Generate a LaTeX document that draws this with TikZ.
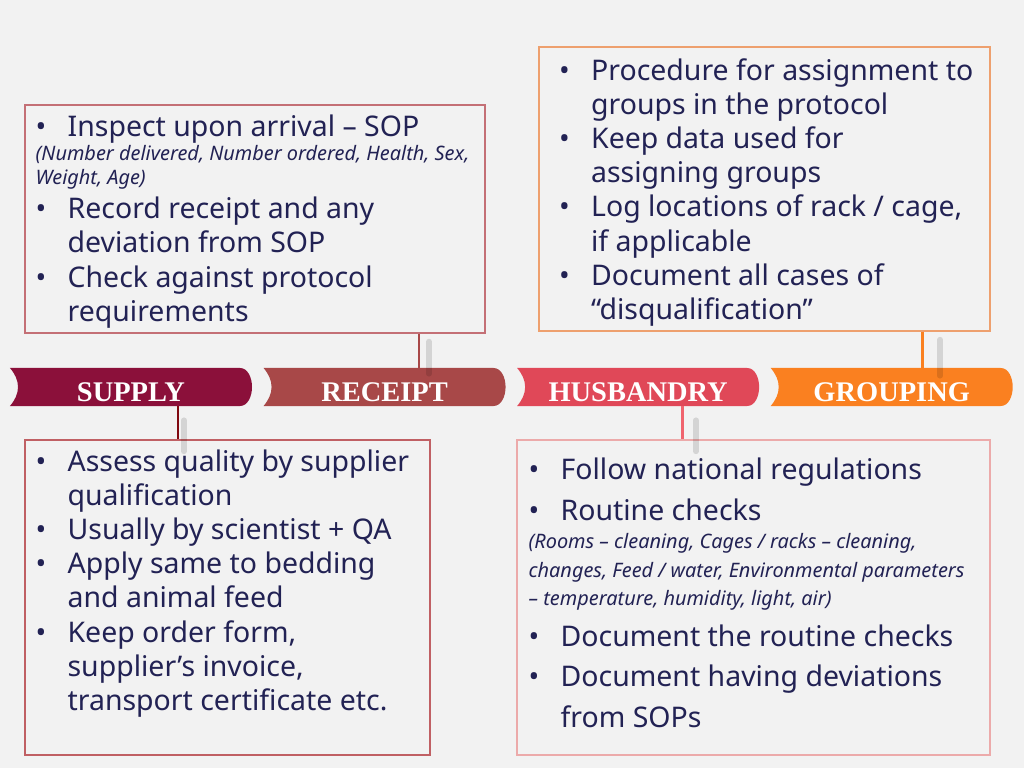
\documentclass[tikz,border=0pt]{standalone}
\usepackage{fontspec}
\setmainfont{Noto Sans}
\newfontfamily\chevfont{Liberation Serif}
\usetikzlibrary{positioning, calc}

\definecolor{bgc}{RGB}{242,242,242}
\definecolor{textc}{RGB}{34,34,84}
\definecolor{supplyc}{RGB}{139,16,58}
\definecolor{receiptc}{RGB}{168,72,72}
\definecolor{husbc}{RGB}{224,72,88}
\definecolor{groupc}{RGB}{250,128,32}
\definecolor{supplyln}{RGB}{128,8,16}
\definecolor{husbln}{RGB}{240,100,110}
\definecolor{sboxc}{RGB}{192,96,100}
\definecolor{rboxc}{RGB}{196,112,118}
\definecolor{hboxc}{RGB}{236,170,170}
\definecolor{gboxc}{RGB}{238,160,110}

% bullet line with hanging indent, and a small italic note
\newif\iffirstline
\newcommand\nextpar{\iffirstline\global\firstlinefalse\else\par\fi}
\newcommand\bitem[1]{\nextpar\hangindent=22.5pt\hangafter=1\noindent\makebox[22.5pt][l]{\textbullet}#1}
\newcommand\note[2][16.8]{\nextpar\noindent{\fontsize{14}{#1}\selectfont\itshape #2\par}\global\firstlinetrue}

\tikzset{
chev/.style={minimum width=170.16pt, minimum height=26.72pt, inner sep=0pt,
  text height=19.7pt, text depth=0pt, text=white,
  font=\chevfont\bfseries\fontsize{20}{24}\selectfont,
  path picture={\fill[#1] (path picture bounding box.north west)
    -- ($(path picture bounding box.north east)+(-12,0)$)
    .. controls ($(path picture bounding box.north east)+(-4,0)$) and ($(path picture bounding box.east)+(0,-9)$) .. (path picture bounding box.east)
    .. controls ($(path picture bounding box.east)+(0,9)$) and ($(path picture bounding box.south east)+(-4,0)$) .. ($(path picture bounding box.south east)+(-12,0)$)
    -- (path picture bounding box.south west)
    .. controls ($(path picture bounding box.south west)+(5,-6)$) and ($(path picture bounding box.west)+(8,7)$) .. ($(path picture bounding box.west)+(8,0)$)
    .. controls ($(path picture bounding box.west)+(8,-7)$) and ($(path picture bounding box.north west)+(5,6)$) .. (path picture bounding box.north west) -- cycle;}},
infobox/.style={draw=#1, line width=0.9pt, inner sep=0pt},
infotext/.style={anchor=base west, inner sep=0pt, text width=400pt, align=flush left,
  text=textc, font=\fontsize{20}{24}\selectfont,
  execute at begin node={\global\firstlinetrue}},
joinline/.style={line width=2.1pt},
joinshade/.style={line width=4pt, black, opacity=0.12, line cap=round},
}

\begin{document}
\begin{tikzpicture}[x=0.703125pt, y=-0.703125pt]
  \fill[bgc] (0,0) rectangle (1024,768);
  \useasboundingbox (0,0) rectangle (1024,768);

  % boxes
  \node[infobox=rboxc, minimum width=323.4pt, minimum height=160.3pt] (rbox) at (255,219) {};
  \node[infobox=gboxc, minimum width=317.1pt, minimum height=199.7pt] (gbox) at (764.5,189) {};
  \node[infobox=sboxc, minimum width=284.8pt, minimum height=221.5pt] (sbox) at (227.5,597.5) {};
  \node[infobox=hboxc, minimum width=332.6pt, minimum height=221.5pt] (hbox) at (753.5,597.5) {};

  % process steps
  \node[chev=supplyc] (supply) at (131,387) {SUPPLY};
  \node[chev=receiptc, right=7.73pt of supply] (receipt) {RECEIPT};
  \node[chev=husbc, right=7.73pt of receipt] (husbandry) {HUSBANDRY};
  \node[chev=groupc, right=7.73pt of husbandry] (grouping) {GROUPING};

  % texts
  \node[infotext] (rtext) at ([shift={(11,32.5)}]rbox.north west) {%
    \bitem{Inspect upon arrival – SOP}
    \note{(Number delivered, Number ordered, Health, Sex,\newline Weight, Age)}
    \bitem{Record receipt and any\newline deviation from SOP}
    \bitem{Check against protocol\newline requirements}\par};
  \node[infotext] (gtext) at ([shift={(20.5,34)}]gbox.north west) {%
    \bitem{Procedure for assignment to\newline groups in the protocol}
    \bitem{Keep data used for\newline assigning groups}
    \bitem{Log locations of rack / cage,\newline if applicable}
    \bitem{Document all cases of\newline “disqualification”}\par};
  \node[infotext] (stext) at ([shift={(11,32)}]sbox.north west) {%
    \bitem{Assess quality by supplier\newline qualification}
    \bitem{Usually by scientist + QA}
    \bitem{Apply same to bedding\newline and animal feed}
    \bitem{Keep order form,\newline supplier’s invoice,\newline transport certificate etc.}\par};
  \node[infotext, font=\fontsize{20}{28.5}\selectfont] (htext) at ([shift={(12,40.5)}]hbox.north west) {%
    \bitem{Follow national regulations}
    \bitem{Routine checks}
    \note[20]{(Rooms – cleaning, Cages / racks – cleaning,\newline changes, Feed / water, Environmental parameters\newline – temperature, humidity, light, air)}
    \bitem{Document the routine checks}
    \bitem{Document having deviations\newline from SOPs}\par};

  % connectors
  \coordinate (sj) at (178,0);
  \coordinate (rj) at (419,0);
  \coordinate (hj) at (682,0);
  \coordinate (gj) at (922,0);
  \draw[joinshade] ($(supply.south -| sj)+(6,14)$) -- ($(sbox.north -| sj)+(6,12)$);
  \draw[joinshade] ($(rbox.south -| rj)+(10,8)$) -- ($(receipt.north -| rj)+(10,6)$);
  \draw[joinshade] ($(husbandry.south -| hj)+(14,14)$) -- ($(hbox.north -| hj)+(14,12)$);
  \draw[joinshade] ($(gbox.south -| gj)+(18,8)$) -- ($(grouping.north -| gj)+(18,8)$);
  \draw[joinline, supplyln] (supply.south -| sj) -- (sbox.north -| sj);
  \draw[joinline, receiptc] (rbox.south -| rj) -- (receipt.north -| rj);
  \draw[joinline, husbln] (husbandry.south -| hj) -- (hbox.north -| hj);
  \draw[joinline, groupc] (gbox.south -| gj) -- (grouping.north -| gj);
\end{tikzpicture}
\end{document}
